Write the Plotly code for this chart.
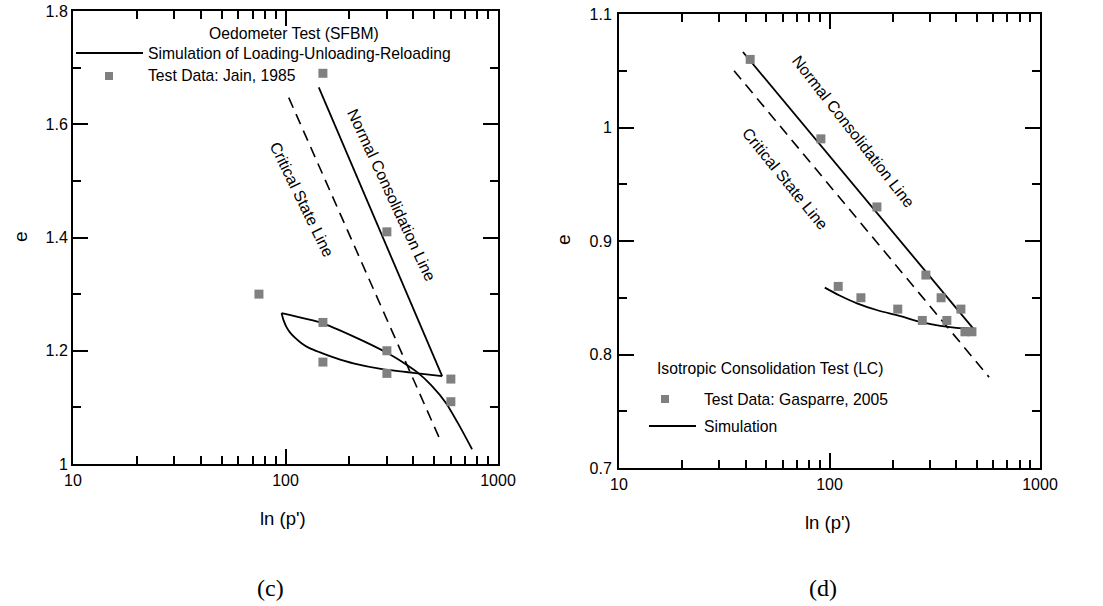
import plotly.graph_objects as go

W, H = 1103, 606

# ---------------- Data: panel (c) Oedometer test ----------------
c_test_p = [75, 150, 150, 150, 300, 300, 300, 600, 600]
c_test_e = [1.30, 1.69, 1.25, 1.18, 1.41, 1.20, 1.16, 1.15, 1.11]

# simulation: loading along NCL -> unloading -> reloading
c_ncl_p = [143.4, 546]
c_ncl_e = [1.665, 1.1551]
c_unload_p = [546, 399, 285.4, 210.9, 169.8, 144.4, 129.6, 118.9, 111.4, 105.6, 101.1, 97.9, 95.8]
c_unload_e = [1.1551, 1.1610, 1.1675, 1.1772, 1.1878, 1.1975, 1.2046, 1.2134, 1.2223,
              1.2311, 1.2417, 1.2541, 1.2664]
c_reload_p = [95.8, 147.6, 210.9, 304.5, 362, 416.6, 484.6, 570, 656, 755]
c_reload_e = [1.2664, 1.2493, 1.2246, 1.1952, 1.1781, 1.1622, 1.1392, 1.1074, 1.0686, 1.0261]

c_csl_p = [103.6, 538]
c_csl_e = [1.647, 1.040]

# ---------------- Data: panel (d) Isotropic consolidation ----------------
d_test_p = [42, 91, 168, 287, 110, 141, 211, 276, 339, 361, 421, 440, 475]
d_test_e = [1.06, 0.99, 0.93, 0.87, 0.86, 0.85, 0.84, 0.83, 0.85, 0.83, 0.84, 0.82, 0.82]

d_ncl_p = [38.8, 491]
d_ncl_e = [1.0665, 0.821]

d_sim_p = [95.0, 111.7, 135.1, 168.9, 215.1, 273.5, 336.5, 400, 459, 491]
d_sim_e = [0.8589, 0.852, 0.8451, 0.839, 0.834, 0.8285, 0.8252, 0.8235, 0.823, 0.8225]

d_csl_p = [35.2, 573]
d_csl_e = [1.050, 0.780]

x_major = [10, 100, 1000]
x_labels = ["10", "100", "1000"]
x_minor = [20, 30, 40, 50, 60, 70, 80, 90, 200, 300, 400, 500, 600, 700, 800, 900]
c_y_major = [1.0, 1.2, 1.4, 1.6, 1.8]
c_y_labels = ["1", "1.2", "1.4", "1.6", "1.8"]
c_y_minor = [1.1, 1.3, 1.5, 1.7]
d_y_major = [0.7, 0.8, 0.9, 1.0, 1.1]
d_y_labels = ["0.7", "0.8", "0.9", "1", "1.1"]
d_y_minor = [0.75, 0.85, 0.95, 1.05]

FONT = "Liberation Sans, Arial, sans-serif"
SERIF = "Liberation Serif, Times New Roman, serif"
GRAY = "#808080"
DASH = "11px,7px"

fig = go.Figure()

# panel (c)
fig.add_trace(go.Scatter(x=c_csl_p, y=c_csl_e, mode="lines",
                         line=dict(color="black", width=1.6, dash=DASH),
                         xaxis="x", yaxis="y", name="Critical State Line"))
fig.add_trace(go.Scatter(x=c_ncl_p, y=c_ncl_e, mode="lines",
                         line=dict(color="black", width=1.8),
                         xaxis="x", yaxis="y", name="Loading"))
fig.add_trace(go.Scatter(x=c_unload_p, y=c_unload_e, mode="lines", line_shape="spline",
                         line=dict(color="black", width=1.8, smoothing=0.5),
                         xaxis="x", yaxis="y", name="Unloading"))
fig.add_trace(go.Scatter(x=c_reload_p, y=c_reload_e, mode="lines", line_shape="spline",
                         line=dict(color="black", width=1.8, smoothing=0.5),
                         xaxis="x", yaxis="y", name="Reloading"))
fig.add_trace(go.Scatter(x=c_test_p, y=c_test_e, mode="markers",
                         marker=dict(symbol="square", size=9, color=GRAY),
                         xaxis="x", yaxis="y", name="Test Data: Jain, 1985"))

# panel (d)
fig.add_trace(go.Scatter(x=d_csl_p, y=d_csl_e, mode="lines",
                         line=dict(color="black", width=1.6, dash=DASH),
                         xaxis="x2", yaxis="y2", name="Critical State Line"))
fig.add_trace(go.Scatter(x=d_ncl_p, y=d_ncl_e, mode="lines",
                         line=dict(color="black", width=1.8),
                         xaxis="x2", yaxis="y2", name="Normal Consolidation Line"))
fig.add_trace(go.Scatter(x=d_sim_p, y=d_sim_e, mode="lines", line_shape="spline",
                         line=dict(color="black", width=1.8),
                         xaxis="x2", yaxis="y2", name="Simulation"))
fig.add_trace(go.Scatter(x=d_test_p, y=d_test_e, mode="markers",
                         marker=dict(symbol="square", size=9, color=GRAY),
                         xaxis="x2", yaxis="y2", name="Test Data: Gasparre, 2005"))


def xaxis(domain, anchor):
    return dict(type="log", domain=domain, anchor=anchor, range=[1, 3],
                tickmode="array", tickvals=x_major, ticktext=x_labels,
                ticks="inside", ticklen=15, tickwidth=1.5, tickcolor="black",
                minor=dict(tickmode="array", tickvals=x_minor, ticks="inside",
                           ticklen=8, tickwidth=1.5, tickcolor="black", showgrid=False),
                showline=True, linewidth=2, linecolor="black", mirror="allticks",
                showgrid=False, zeroline=False, automargin=False,
                ticklabelstandoff=1,
                tickfont=dict(family=FONT, size=16, color="black"))


def yaxis(domain, anchor, rng, major, labels, minor, standoff):
    return dict(domain=domain, anchor=anchor, range=rng,
                tickmode="array", tickvals=major, ticktext=labels,
                ticks="inside", ticklen=15, tickwidth=1.5, tickcolor="black",
                minor=dict(tickmode="array", tickvals=minor, ticks="inside",
                           ticklen=8, tickwidth=1.5, tickcolor="black", showgrid=False),
                showline=True, linewidth=2, linecolor="black", mirror="allticks",
                showgrid=False, zeroline=False, automargin=False,
                ticklabelstandoff=standoff,
                tickfont=dict(family=FONT, size=16, color="black"))


cx = [73 / W, 498 / W]
cy = [(H - 464) / H, (H - 11) / H]
dx = [619 / W, 1040 / W]
dy = [(H - 468) / H, (H - 14) / H]

fig.update_layout(
    template="none",
    width=W, height=H,
    margin=dict(l=0, r=0, t=0, b=0, autoexpand=False),
    paper_bgcolor="white", plot_bgcolor="white",
    xaxis=xaxis(cx, "y"),
    yaxis=yaxis(cy, "x", [1.0, 1.8], c_y_major, c_y_labels, c_y_minor, 0),
    xaxis2=xaxis(dx, "y2"),
    yaxis2=yaxis(dy, "x2", [0.7, 1.1], d_y_major, d_y_labels, d_y_minor, 2),
    showlegend=False,
)


def px(x):
    return x / W


def py(y):
    return 1 - y / H


ann = []


def text(s, x, y, size=15.7, angle=0, xanchor="center", family=FONT):
    ann.append(dict(text=s, x=px(x), y=py(y), xref="paper", yref="paper",
                    showarrow=False, xanchor=xanchor, yanchor="middle",
                    borderpad=0, borderwidth=0,
                    textangle=angle, font=dict(family=family, size=size, color="black")))


# axis titles
text("e", 20, 237, size=19, angle=-90)
text("e", 563, 240, size=19, angle=-90)
text("ln (p')", 283, 518, size=18.5)
text("ln (p')", 828, 522, size=18.5)
text("(c)", 270, 588, size=24, family=SERIF)
text("(d)", 823, 588, size=24, family=SERIF)

# line labels
text("Normal Consolidation Line", 392, 195, size=16, angle=65)
text("Critical State Line", 301, 199, size=16, angle=64)
text("Normal Consolidation Line", 853, 132, size=16, angle=52)
text("Critical State Line", 785, 178, size=16, angle=51)

# legend panel (c)
text("Oedometer Test (SFBM)", 294, 33)
text("Simulation of Loading-Unloading-Reloading", 148, 53, xanchor="left")
text("Test Data: Jain, 1985", 148, 76, xanchor="left")
# legend panel (d)
text("Isotropic Consolidation Test (LC)", 657, 368, xanchor="left")
text("Test Data: Gasparre, 2005", 704, 399, xanchor="left")
text("Simulation", 704, 426, xanchor="left")

fig.update_layout(annotations=ann)

shapes = [
    dict(type="line", xref="paper", yref="paper", x0=px(76), x1=px(143), y0=py(53), y1=py(53),
         line=dict(color="black", width=1.8)),
    dict(type="rect", xref="paper", yref="paper", x0=px(105), x1=px(113), y0=py(72), y1=py(80),
         line=dict(width=0), fillcolor=GRAY),
    dict(type="rect", xref="paper", yref="paper", x0=px(661), x1=px(669), y0=py(395), y1=py(403),
         line=dict(width=0), fillcolor=GRAY),
    dict(type="line", xref="paper", yref="paper", x0=px(649), x1=px(696), y0=py(426), y1=py(426),
         line=dict(color="black", width=1.8)),
]
fig.update_layout(shapes=shapes)

fig.write_html("out.html")
